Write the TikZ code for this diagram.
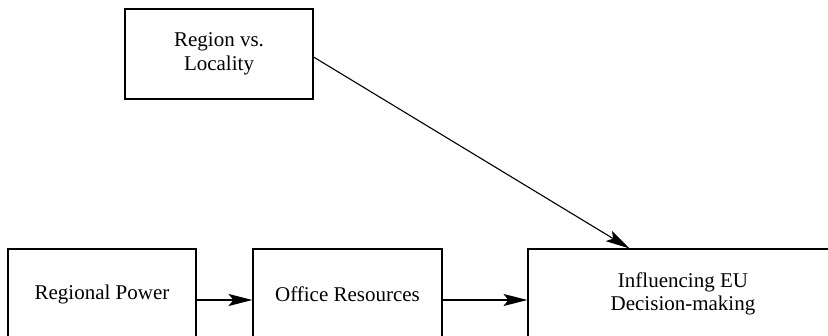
\documentclass[tikz,border=0pt]{standalone}
\usepackage{fontspec}
\setmainfont{Liberation Serif}
\usetikzlibrary{arrows.meta}
\begin{document}
\begin{tikzpicture}[x=1pt,y=-1pt,
  box/.style={draw,line width=1.1pt,inner sep=0pt,minimum height=90pt,align=center,
    font=\fontsize{21}{23.5}\selectfont},
  arr/.style={line width=1.1pt,-{Stealth[length=24pt,width=12pt,inset=5pt]}}]
\useasboundingbox (0,0) rectangle (828,336);
\node[box,minimum width=188pt] (rv) at (219,54) {Region vs.\\Locality};
\node[box,minimum width=188pt] (rp) at (102,294) {Regional Power};
\node[box,minimum width=189pt] (or) at (347.5,294) {Office Resources};
\node[box,minimum width=310pt] (inf) at (683,294) {Influencing EU\\Decision-making};
\draw[arr] ([yshift=-6pt]rp.east) -- ([yshift=-6pt]or.west);
\draw[arr] ([yshift=-6pt]or.east) -- ([yshift=-6pt]inf.west);
\draw[arr] ([yshift=-3pt]rv.east) -- ([xshift=102pt]inf.north west);
\end{tikzpicture}
\end{document}
